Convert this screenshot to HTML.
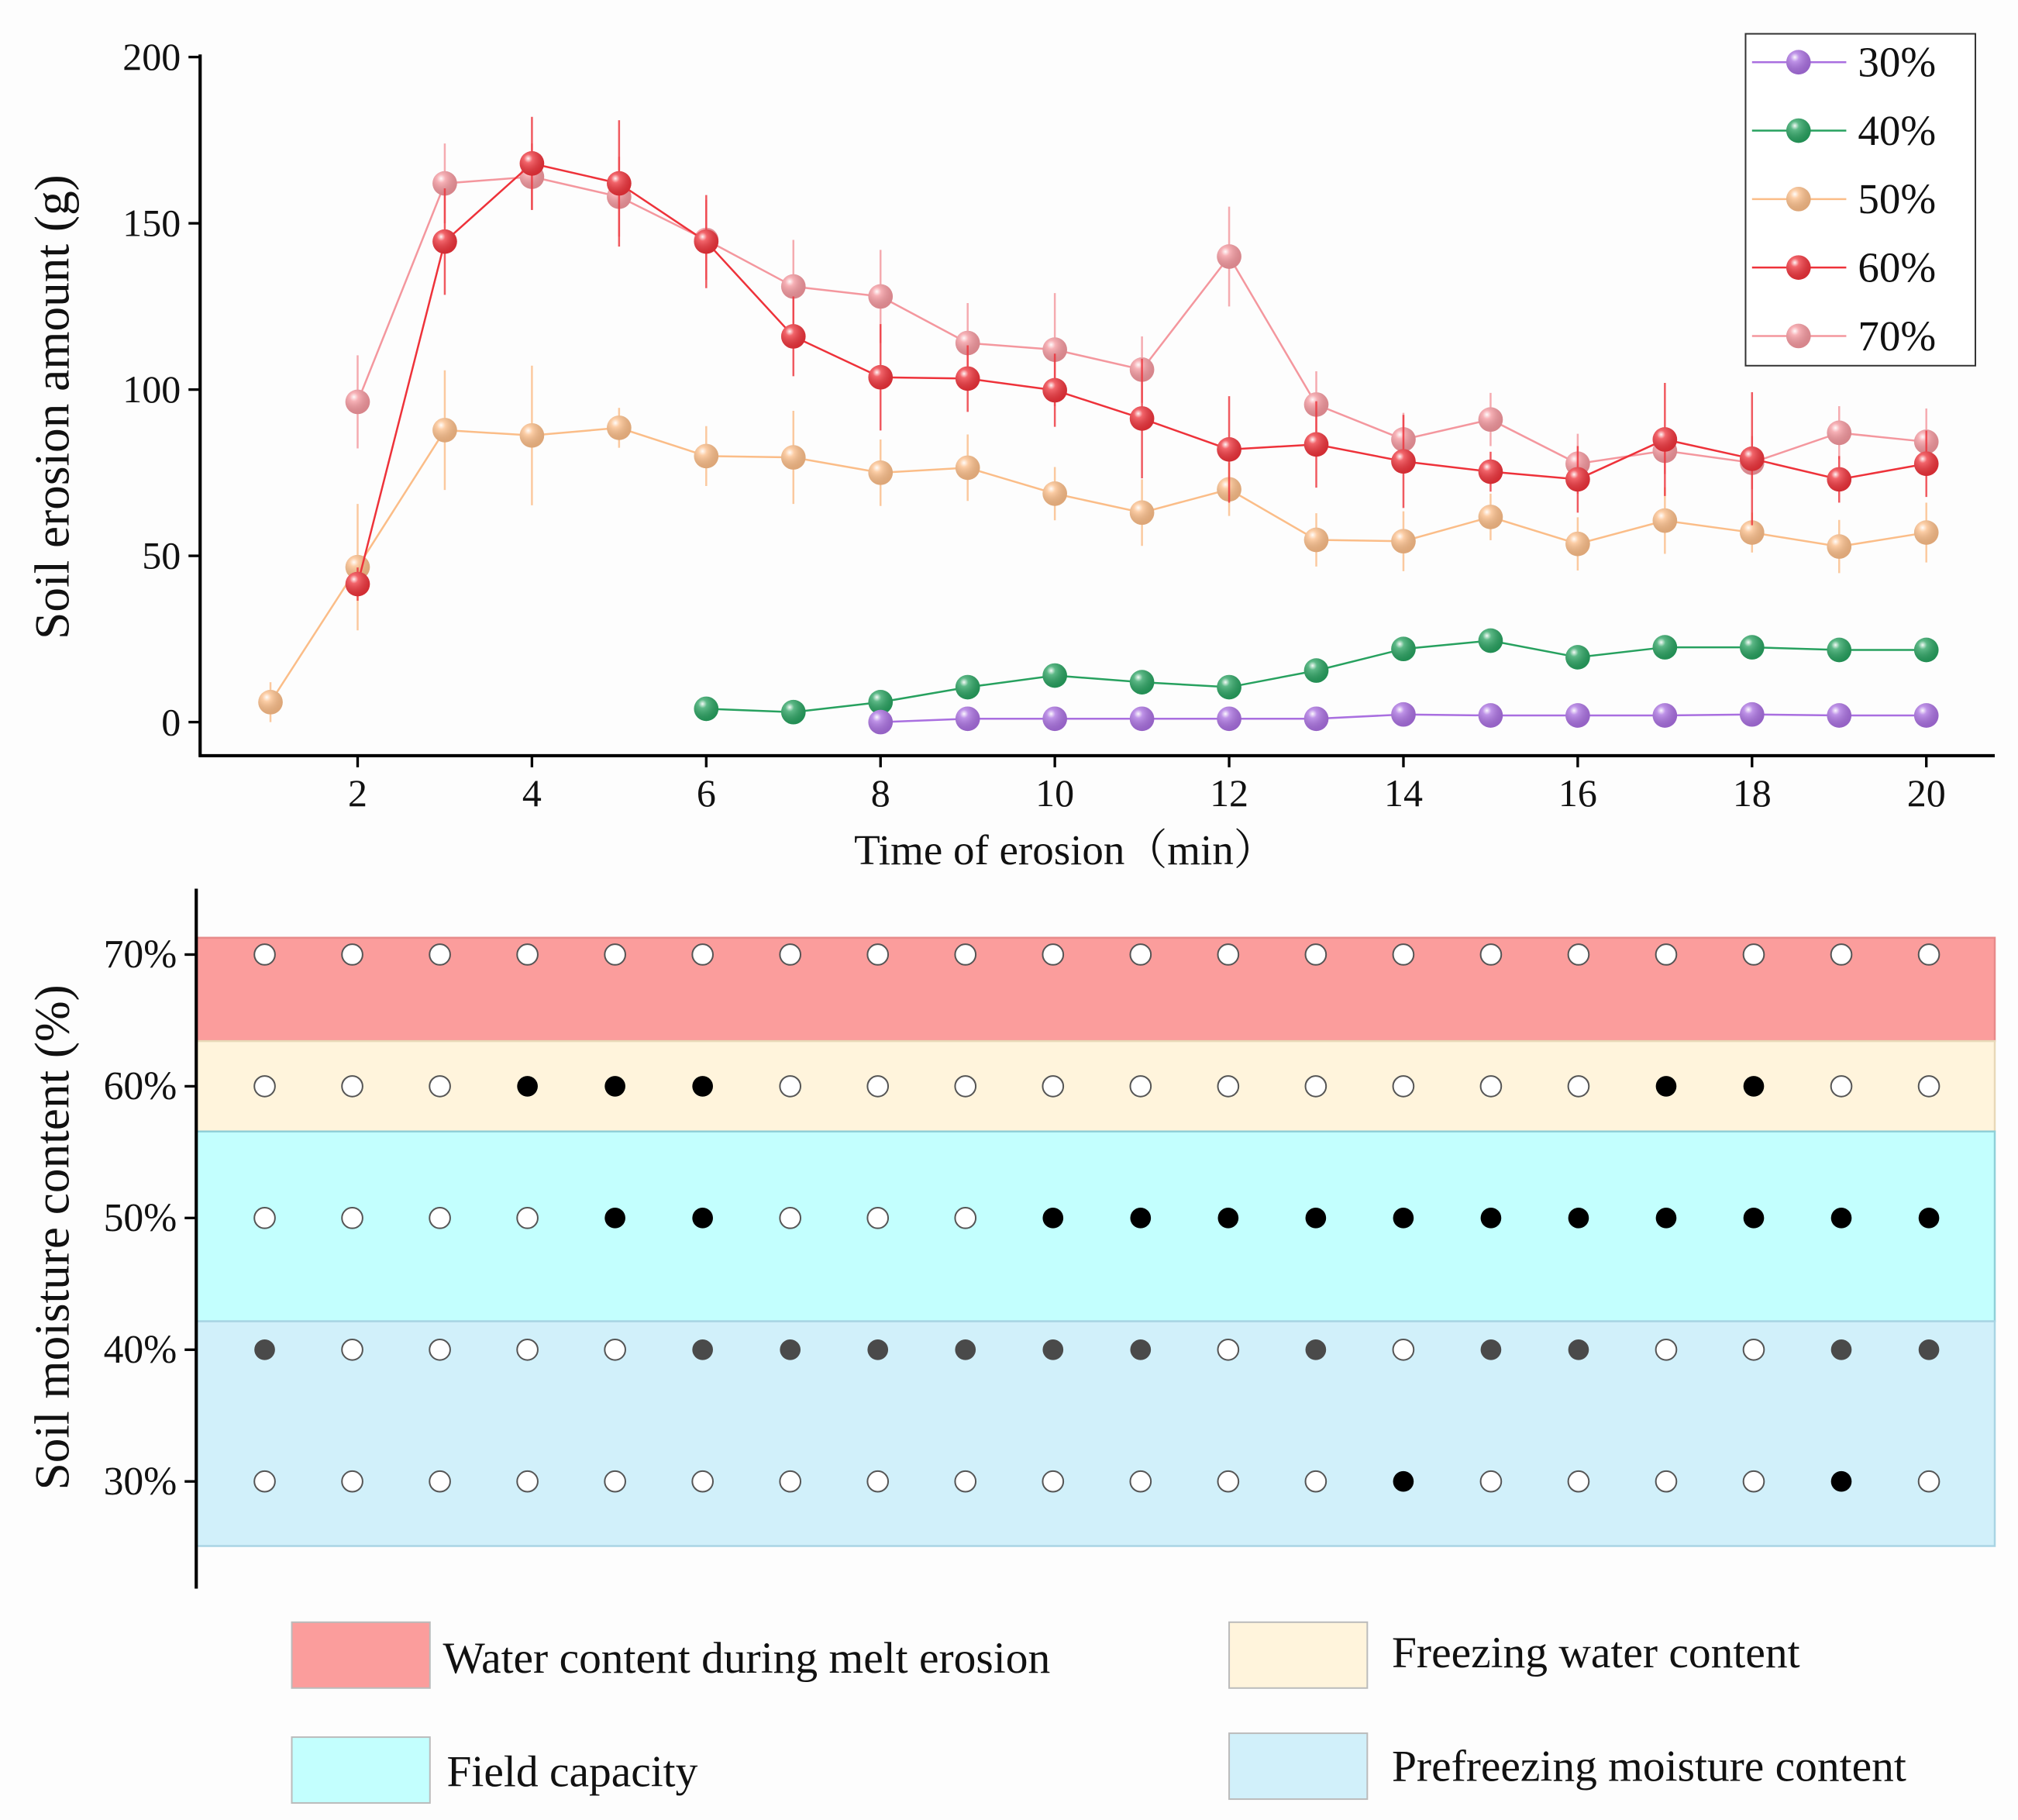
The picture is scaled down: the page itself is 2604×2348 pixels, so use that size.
<!DOCTYPE html>
<html><head><meta charset="utf-8"><style>
html,body{margin:0;padding:0;background:#fdfdfd}
svg{display:block}
text{font-family:"Liberation Serif","Noto Serif CJK SC",serif;fill:#111}
</style></head><body>
<svg id="fig" width="2604" height="2348" viewBox="0 0 1563 1409" xmlns="http://www.w3.org/2000/svg">
<defs>
<radialGradient id="hl" cx="0.35" cy="0.3" r="0.7">
<stop offset="0" stop-color="#fff" stop-opacity="0.95"/>
<stop offset="0.25" stop-color="#fff" stop-opacity="0.25"/>
<stop offset="1" stop-color="#000" stop-opacity="0.12"/>
</radialGradient>
</defs>
<rect width="1563" height="1409" fill="#fdfdfd"/>
<g id="top"></g>
<g id="bottom"></g>
</svg>
<script>
// ---- top chart data ----
const xTicks = [2,4,6,8,10,12,14,16,18,20];
const yTicks = [0,50,100,150,200];
const seriesNames = ["30%","40%","50%","60%","70%"];
const seriesColors = ["#a96fe0","#27a15f","#fbbd88","#ee323a","#f4979e"];
const x30 = [8,9,10,11,12,13,14,15,16,17,18,19,20];
const v30 = [0,1,1,1,1,1,2.3,2,2,2,2.3,2,2];
const e30 = [0,0,0,0,0,0,0,0,0,0,0,0,0];
const x40 = [6,7,8,9,10,11,12,13,14,15,16,17,18,19,20];
const v40 = [4,3,6,10.5,14,12,10.5,15.5,22,24.5,19.5,22.5,22.5,21.7,21.7];
const e40 = [1,1,1,1,1,1,1,1,1,1,1,1,1,1,1];
const x50 = [1,2,3,4,5,6,7,8,9,10,11,12,13,14,15,16,17,18,19,20];
const v50 = [6,46.6,87.8,86.2,88.5,80,79.6,75,76.5,68.7,63,70,54.8,54.4,61.7,53.6,60.6,57,52.8,57];
const e50 = [6,19,18,21,6,9,14,10,10,8,10,8,8,9,7,8,10,6,8,9];
const x60 = [2,3,4,5,6,7,8,9,10,11,12,13,14,15,16,17,18,19,20];
const v60 = [41.5,144.5,168,162,144.5,116,103.7,103.3,99.8,91.3,82,83.5,78.4,75.3,73,85,79.2,73,77.7];
const e60 = [5,16,14,19,14,12,16,10,11,18,16,13,14,6,10,17,20,7,10];
const x70 = [2,3,4,5,6,7,8,9,10,11,12,13,14,15,16,17,18,19,20];
const v70 = [96.3,162,164,158,145,131,128,114,112,106,140,95.5,85,91,77.7,81.6,78,87,84.3];
const e70 = [14,12,10,12,12,14,14,12,17,10,15,10,8,8,9,7,8,8,10];

// ---- bottom chart data ----
const levels = ["70%","60%","50%","40%","30%"];
const minutes = [1,2,3,4,5,6,7,8,9,10,11,12,13,14,15,16,17,18,19,20];
// 0 = open, 1 = black, 2 = dark grey
const s70 = [0,0,0,0,0,0,0,0,0,0,0,0,0,0,0,0,0,0,0,0];
const s60 = [0,0,0,1,1,1,0,0,0,0,0,0,0,0,0,0,1,1,0,0];
const s50 = [0,0,0,0,1,1,0,0,0,1,1,1,1,1,1,1,1,1,1,1];
const s40 = [2,0,0,0,0,2,2,2,2,2,2,0,2,0,2,2,0,0,2,2];
const s30 = [0,0,0,0,0,0,0,0,0,0,0,0,0,1,0,0,0,0,1,0];
const bandNames = ["Water content during melt erosion","Freezing water content","Field capacity","Prefreezing moisture content"];
const bandColors = ["#fb9d9c","#fff4dc","#c3fffe","#d1f0fa"];

const NS="http://www.w3.org/2000/svg";
function mk(parent,tag,attrs,txt){const e=document.createElementNS(NS,tag);for(const k in attrs)e.setAttribute(k,attrs[k]);if(txt!==undefined)e.textContent=txt;parent.appendChild(e);return e;}

// ---------- TOP ----------
const T=document.getElementById('top');
const xs=v=>277+(v-2)*(1492-277)/18;
const ys=v=>559-v*(559-44)/200;
let a;
a=mk(T,'line',{x1:155,y1:42,x2:155,y2:586,stroke:'#000','stroke-width':2.5});


a=mk(T,'line',{x1:154,y1:585,x2:1545,y2:585,stroke:'#000','stroke-width':2.5});


yTicks.forEach(t=>{
  mk(T,'line',{x1:146,y1:ys(t),x2:155,y2:ys(t),stroke:'#000','stroke-width':2});
  a=mk(T,'text',{x:140,y:ys(t)+10,'text-anchor':'end','font-size':30},t);
  
  
});
xTicks.forEach(t=>{
  mk(T,'line',{x1:xs(t),y1:585,x2:xs(t),y2:594,stroke:'#000','stroke-width':2});
  a=mk(T,'text',{x:xs(t),y:624,'text-anchor':'middle','font-size':30},t);
  
  
});
a=mk(T,'text',{x:825,y:669,'text-anchor':'middle','font-size':33},'Time of erosion（min）');


a=mk(T,'text',{x:0,y:0,'text-anchor':'middle','font-size':38,transform:'translate(53,315) rotate(-90)'},'Soil erosion amount (g)');



const allX=[x30,x40,x50,x60,x70],allV=[v30,v40,v50,v60,v70],allE=[e30,e40,e50,e60,e70];
const order=[2,4,3,1,0];
order.forEach(si=>{
  const g=mk(T,'g',{});
  
  
  const X=allX[si],V=allV[si],E=allE[si],c=seriesColors[si];
  X.forEach((x,i)=>{ if(E[i]>0){const l=mk(g,'line',{x1:xs(x),x2:xs(x),y1:ys(V[i]-E[i]),y2:ys(V[i]+E[i]),stroke:c,'stroke-width':1.5,opacity:0.8});
    
    }});
  const p=mk(g,'polyline',{points:X.map((x,i)=>xs(x)+','+ys(V[i])).join(' '),fill:'none',stroke:c,'stroke-width':1.5});
  
  
  X.forEach((x,i)=>{
    const m=mk(g,'circle',{cx:xs(x),cy:ys(V[i]),r:9.5,fill:c});
    
    
    mk(g,'circle',{cx:xs(x),cy:ys(V[i]),r:9.5,fill:'url(#hl)'});
  });
});
// legend
const L=mk(T,'g',{});


mk(L,'rect',{x:1352,y:26,width:178,height:257,fill:'#fff',stroke:'#333','stroke-width':1.2});
seriesNames.forEach((n,i)=>{
  const y=48+i*53;
  const e=mk(L,'g',{});
  
  
  mk(e,'line',{x1:1357,x2:1430,y1:y,y2:y,stroke:seriesColors[i],'stroke-width':1.5});
  mk(e,'circle',{cx:1393,cy:y,r:9.5,fill:seriesColors[i]});
  mk(e,'circle',{cx:1393,cy:y,r:9.5,fill:'url(#hl)'});
  mk(e,'text',{x:1439,y:y+11,'font-size':33},n);
});

// ---------- BOTTOM ----------
const B=document.getElementById('bottom');
const bx=m=>205+(m-1)*(1494-205)/19;
const by=i=>739+i*102;
const bands=[[726,806,0],[806,876,1],[876,1023,2],[1023,1197,3]];
const bandStroke=["#e88a8a","#e8d8b8","#8fd0d8","#a9d4e4"];
bands.forEach(b=>{
  a=mk(B,'rect',{x:152,y:b[0],width:1393,height:b[1]-b[0],fill:bandColors[b[2]],stroke:bandStroke[b[2]],'stroke-width':1.5});
  
  
});
a=mk(B,'line',{x1:152,y1:688,x2:152,y2:1230,stroke:'#000','stroke-width':2.5});


const states=[s70,s60,s50,s40,s30];
levels.forEach((lv,i)=>{
  mk(B,'line',{x1:143,x2:152,y1:by(i),y2:by(i),stroke:'#000','stroke-width':2});
  a=mk(B,'text',{x:137,y:by(i)+10,'text-anchor':'end','font-size':31},lv);
  
  
  minutes.forEach((m,j)=>{
    const s=states[i][j];
    const c=mk(B,'circle',{cx:bx(m),cy:by(i),r:8,fill:s===1?'#000':s===2?'#4a4a4a':'#fff',stroke:s===0?'#555':'none','stroke-width':1.2});
    
    
  });
});
a=mk(B,'text',{x:0,y:0,'text-anchor':'middle','font-size':38,transform:'translate(53,958) rotate(-90)'},'Soil moisture content (%)');


const legPos=[[226,1256,343,1295],[952,1256,1078,1291],[226,1345,346,1383],[952,1342,1078,1379]];
bandNames.forEach((n,i)=>{
  const g=mk(B,'g',{});
  
  
  const p=legPos[i];
  mk(g,'rect',{x:p[0],y:p[1],width:107,height:51,fill:bandColors[i],stroke:'#bbb','stroke-width':1.2});
  mk(g,'text',{x:p[2],y:p[3],'font-size':34.5},n);
});
</script>
</body></html>
